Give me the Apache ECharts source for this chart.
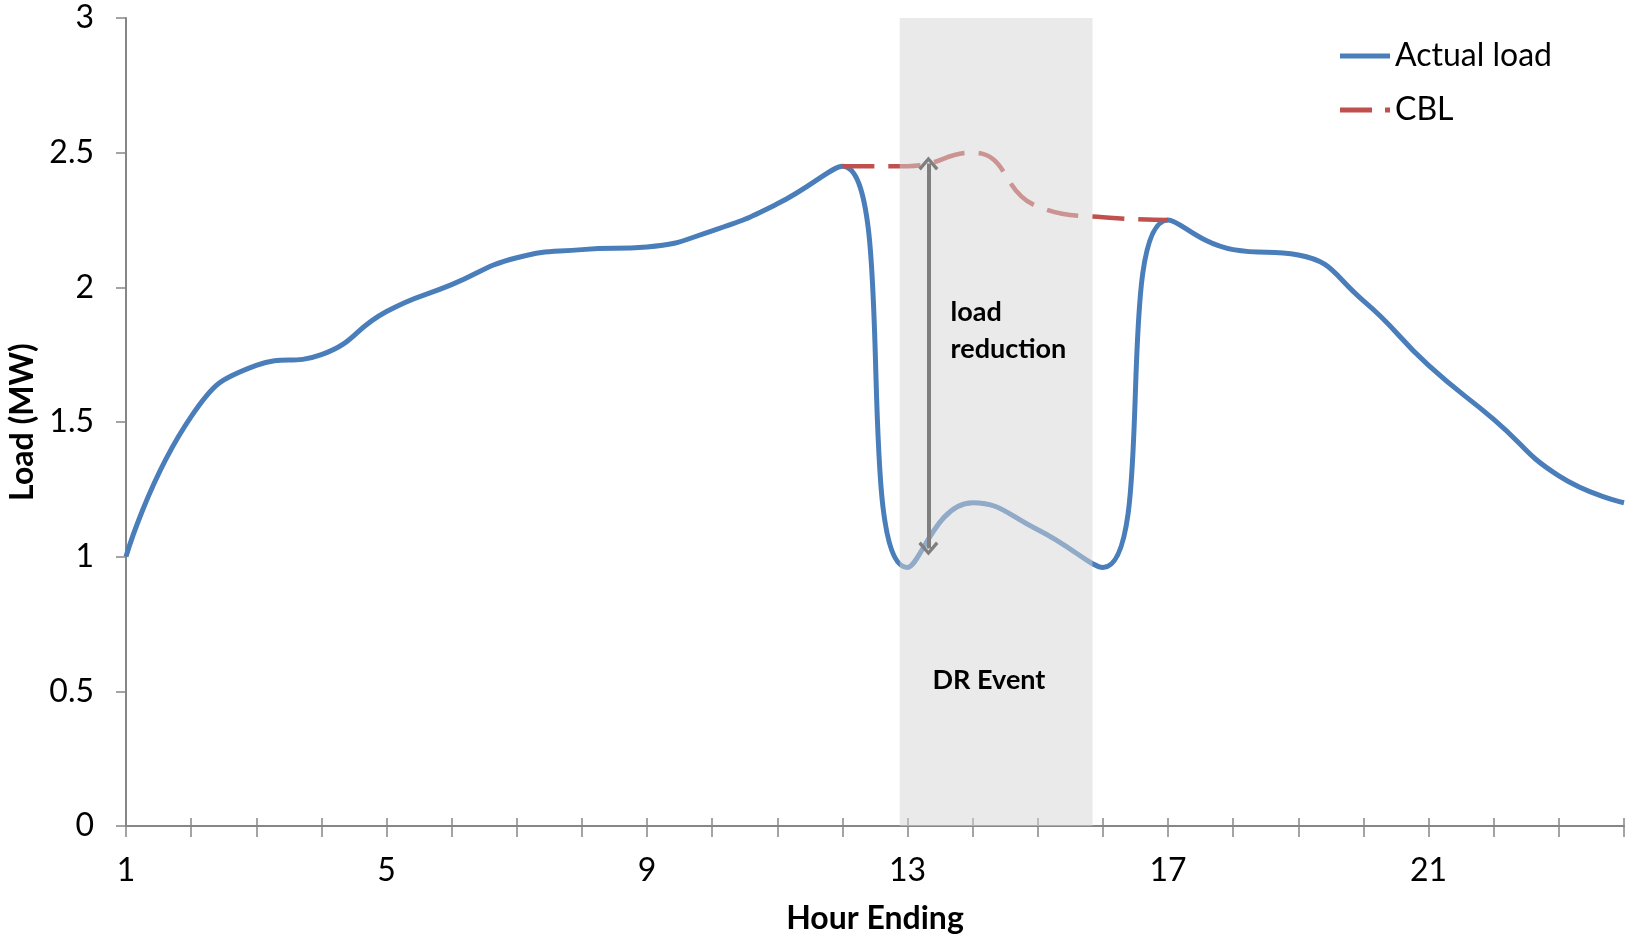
<!DOCTYPE html>
<html>
<head>
<meta charset="utf-8">
<script src="https://cdn.jsdelivr.net/npm/echarts@6/dist/echarts.min.js"></script>
<style>
  html, body { margin: 0; padding: 0; background: #fff; }
  #chart { width: 1632px; height: 936px; }
</style>
</head>
<body>
<div id="chart"></div>
<script>
// hour ending 1..24
const hours = [1, 2, 3, 4, 5, 6, 7, 8, 9, 10, 11, 12, 13, 14, 15, 16, 17, 18, 19, 20, 21, 22, 23, 24];
const actualLoad = [1.00, 1.52, 1.71, 1.75, 1.91, 2.01, 2.11, 2.14, 2.15, 2.21, 2.31, 2.45,
  0.96, 1.20, 1.10, 0.96, 2.25, 2.14, 2.12, 1.95, 1.71, 1.51, 1.30, 1.20];
// customer baseline, only around the event
const cblHours = [12, 13, 14, 15, 16, 17];
const cblLoad = [2.45, 2.45, 2.50, 2.30, 2.26, 2.25];
const yTicks = [0, 0.5, 1, 1.5, 2, 2.5, 3];
const xLabelHours = [1, 5, 9, 13, 17, 21];

// DR event window and annotations, in data units
const eventWindow = [12.88, 15.84];
const arrowHour = 13.32;
const arrowSpan = [2.46, 1.03];
const reductionLabelAt = [13.66, 1.84];
const eventLabelAt = [14.25, 0.54];

const font = "Lato";
const axisGrey = "#868686";
const blue = "#4a7ebb";
const red = "#c0504d";
const chevron = "path://M0 11 L10 0 L20 11 L17.6 13.2 L10 4.8 L2.4 13.2 Z";

const chart = echarts.init(document.getElementById("chart"));

const xBase = {
  type: "value",
  min: hours[0],
  max: hours[hours.length - 1],
  interval: 1,
  position: "bottom",
  splitLine: { show: false },
};

chart.setOption({
  animation: false,
  textStyle: { fontFamily: font },
  grid: { left: 126, right: 8, top: 18, bottom: 110, containLabel: false, outerBoundsMode: "none" },
  legend: {
    orient: "vertical",
    left: 1335,
    top: 35,
    itemWidth: 50,
    itemHeight: 5,
    itemGap: 22,
    textStyle: { fontSize: 32, color: "#000", fontFamily: font },
    data: [
      { name: "Actual load", icon: "path://M0 0 H50 V5 H0 Z" },
      { name: "CBL", icon: "path://M0 0 H32 V5 H0 Z M45 0 H50 V5 H45 Z" },
    ],
  },
  xAxis: [
    Object.assign({}, xBase, {
      name: "Hour Ending",
      nameLocation: "middle",
      nameGap: 77,
      nameTextStyle: { fontSize: 32, fontWeight: "bold", color: "#000" },
      axisLine: { lineStyle: { color: axisGrey, width: 2 } },
      axisTick: { show: true, length: 11, lineStyle: { color: axisGrey, width: 1.5 } },
      axisLabel: {
        fontSize: 32,
        color: "#000",
        margin: 29,
        formatter: (v) => (xLabelHours.includes(v) ? String(v) : ""),
      },
    }),
    Object.assign({}, xBase, {
      axisLine: { show: false },
      axisTick: { show: true, inside: true, length: 8, lineStyle: { color: axisGrey, width: 1.5 } },
      axisLabel: { show: false },
    }),
  ],
  yAxis: {
    type: "value",
    min: yTicks[0],
    max: yTicks[yTicks.length - 1],
    interval: 0.5,
    name: "Load (MW)",
    nameLocation: "middle",
    nameGap: 84,
    nameTextStyle: { fontSize: 32, fontWeight: "bold", color: "#000" },
    splitLine: { show: false },
    axisLine: { show: true, lineStyle: { color: axisGrey, width: 2 } },
    axisTick: { show: true, length: 10, lineStyle: { color: axisGrey, width: 1.5 } },
    axisLabel: { fontSize: 32, color: "#000", margin: 32 },
  },
  series: [
    {
      name: "Actual load",
      type: "line",
      data: hours.map((h, i) => [h, actualLoad[i]]),
      smooth: 0.5,
      symbol: "none",
      z: 2,
      color: blue,
      lineStyle: { width: 5, color: blue },
    },
    {
      name: "CBL",
      type: "line",
      data: cblHours.map((h, i) => [h, cblLoad[i]]),
      smooth: 0.5,
      symbol: "none",
      z: 2,
      color: red,
      lineStyle: { width: 4.5, color: red, type: [32, 14] },
    },
    {
      // translucent overlay for the event, plus arrow and notes on top
      name: "event",
      type: "line",
      data: [],
      z: 10,
      markArea: {
        z: 10,
        silent: true,
        itemStyle: { color: "rgba(214,214,214,0.5)" },
        data: [[{ xAxis: eventWindow[0], yAxis: yTicks[0] }, { xAxis: eventWindow[1], yAxis: yTicks[yTicks.length - 1] }]],
      },
      markLine: {
        z: 20,
        silent: true,
        symbol: [chevron, chevron],
        symbolSize: [20, 14],
        label: { show: false },
        lineStyle: { color: "#7f7f7f", width: 4, type: "solid" },
        data: [[{ coord: [arrowHour, arrowSpan[0]] }, { coord: [arrowHour, arrowSpan[1]] }]],
      },
      markPoint: {
        z: 20,
        silent: true,
        symbol: "circle",
        symbolSize: 1,
        itemStyle: { color: "rgba(0,0,0,0)" },
        label: {
          show: true,
          position: "inside",
          color: "#000",
          fontFamily: font,
          fontWeight: "bold",
          fontSize: 27,
        },
        data: [
          {
            coord: reductionLabelAt,
            label: { formatter: "load\nreduction", align: "left", verticalAlign: "middle", lineHeight: 37 },
          },
          {
            coord: eventLabelAt,
            label: { formatter: "DR Event", align: "center", verticalAlign: "middle" },
          },
        ],
      },
    },
  ],
});
</script>
</body>
</html>
